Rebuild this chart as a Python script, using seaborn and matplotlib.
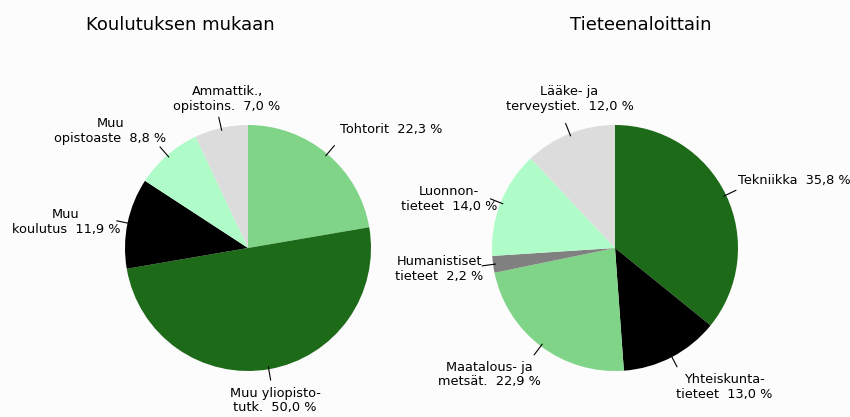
import numpy as np
import matplotlib
matplotlib.use("Agg")
import matplotlib.pyplot as plt
import seaborn as sns

# Data: shares in percent, clockwise from 12 o'clock
edu_labels = ["Tohtorit", "Muu yliopisto-\ntutk.", "Muu\nkoulutus",
              "Muu\nopistoaste", "Ammattik.,\nopistoins."]
edu_values = [22.3, 50.0, 11.9, 8.8, 7.0]

field_labels = ["Tekniikka", "Yhteiskunta-\ntieteet", "Maatalous- ja\nmetsät.",
                "Humanistiset\ntieteet", "Luonnon-\ntieteet", "Lääke- ja\nterveystiet."]
field_values = [35.8, 13.0, 22.9, 2.2, 14.0, 12.0]

# Colours
LIGHT = "#7fd488"
DARK = "#1d6b19"
BLACK = "#000000"
MINT = "#affcc8"
LGRAY = "#dcdcdc"
GRAY = "#808080"
edu_colors = [LIGHT, DARK, BLACK, MINT, LGRAY]
field_colors = [DARK, BLACK, LIGHT, GRAY, MINT, LGRAY]

# Label layout (text anchor in pie units, alignment)
edu_layout = [((0.75, 0.96), "left"), ((0.22, -1.24), "center"),
              ((-1.48, 0.21), "center"), ((-1.12, 0.95), "center"),
              ((-0.17, 1.21), "center")]
field_layout = [((1.0, 0.55), "left"), ((0.89, -1.13), "center"),
                ((-1.02, -1.03), "center"), ((-1.07, -0.17), "right"),
                ((-0.96, 0.40), "right"), ((-0.37, 1.21), "center")]

sns.set_style("white")
plt.rcParams["font.family"] = ["DejaVu Sans"]
plt.rcParams["text.color"] = "black"
bg = "#fcfcfc"

fig = plt.figure(figsize=(8.5, 4.17), dpi=100, facecolor=bg)


def fmt(v):
    return f"{v:.1f}".replace(".", ",") + " %"


def draw_pie(ax, labels, values, colors, layout, title, title_x):
    wedges, _ = ax.pie(values, colors=colors, startangle=90, counterclock=False,
                       radius=1.0, wedgeprops=dict(linewidth=0))
    ax.set_xlim(-1, 1)
    ax.set_ylim(-1, 1)
    ax.set_aspect("equal")
    ax.axis("off")
    for w, lab, v, ((tx, ty), ha) in zip(wedges, labels, values, layout):
        mid = np.deg2rad((w.theta1 + w.theta2) / 2)
        c, s = np.cos(mid), np.sin(mid)
        ax.plot([0.98 * c, 1.09 * c], [0.98 * s, 1.09 * s], color="black",
                lw=0.8, clip_on=False)
        ax.text(tx, ty, lab + "  " + fmt(v), ha=ha, va="center",
                multialignment="center", fontsize=9.3, linespacing=1.15,
                color="black", clip_on=False)
    fig.text(title_x, 0.94, title, ha="center", va="center", fontsize=13,
             color="black")


# axes: centre (248,248) and (615,248), radius 123 px
r = 123
for cx, labels, values, colors, layout, title, tx in [
    (248, edu_labels, edu_values, edu_colors, edu_layout, "Koulutuksen mukaan", 180),
    (615, field_labels, field_values, field_colors, field_layout, "Tieteenaloittain", 641),
]:
    ax = fig.add_axes([(cx - r) / 850, (417 - 248 - r) / 417, 2 * r / 850, 2 * r / 417])
    ax.set_facecolor(bg)
    draw_pie(ax, labels, values, colors, layout, title, tx / 850)

fig.savefig("out.png", dpi=100, facecolor=bg)
